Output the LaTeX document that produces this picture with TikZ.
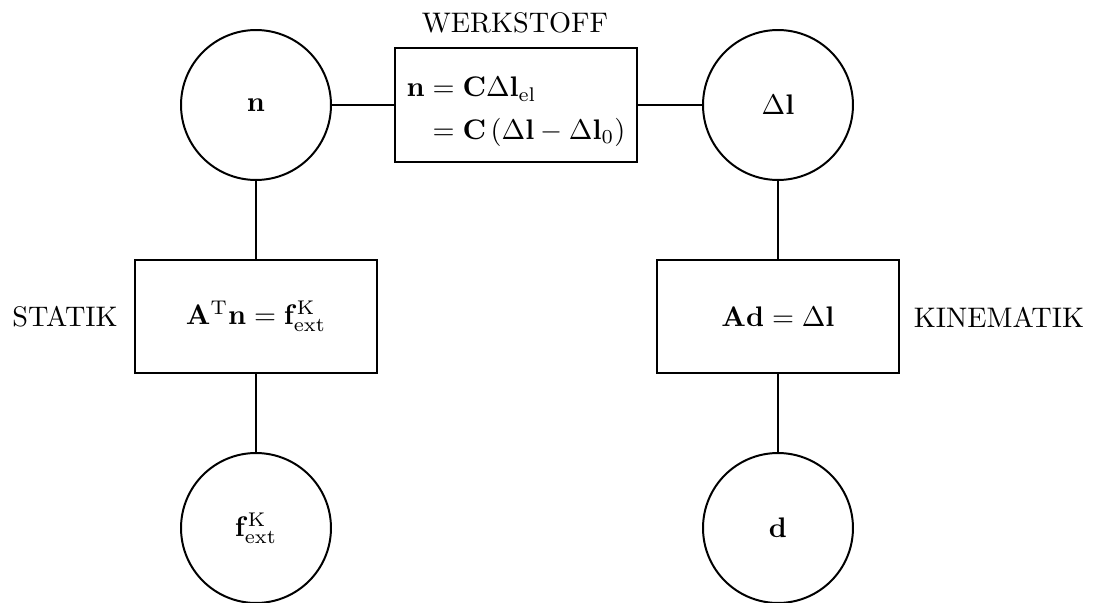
\documentclass[tikz,border=0pt]{standalone}
\usepackage{amsmath}
\begin{document}
\begin{tikzpicture}[x=0.3534pt,y=-0.3534pt,
  every path/.style={line width=0.7pt},
  var/.style={draw,circle,minimum size=53pt,inner sep=0pt,line width=0.7pt},
  eqbox/.style={draw,rectangle,minimum width=85.2pt,minimum height=39.9pt,inner sep=3pt,line width=0.7pt},
  lbl/.style={inner sep=0pt}]
\useasboundingbox (0,0) rectangle (1093,603);
\node[var] (n) at (256,105) {$\mathbf{n}$};
\node[var] (dl) at (778,105) {$\Delta\mathbf{l}$};
\node[var] (f) at (256,528) {$\mathbf{f}_{\mathrm{ext}}^{\mathrm{K}}$};
\node[var] (d) at (778,528) {$\mathbf{d}$};
\node[eqbox,minimum height=40.3pt] (w) at (516,105) {\raisebox{-2.2pt}[\height][\depth]{$\begin{aligned}\mathbf{n} &= \mathbf{C}\Delta\mathbf{l}_{\mathrm{el}}\\ &= \mathbf{C}\left(\Delta\mathbf{l}-\Delta\mathbf{l}_0\right)\end{aligned}$}};
\node[eqbox] (s) at (256,316.5) {$\mathbf{A}^{\mathrm{T}}\mathbf{n} = \mathbf{f}_{\mathrm{ext}}^{\mathrm{K}}$};
\node[eqbox] (k) at (778,316.5) {$\mathbf{A}\mathbf{d} = \Delta\mathbf{l}$};
\node[lbl] (wl) at (515,23) {WERKSTOFF};
\node[lbl] (sl) at (65,317) {STATIK};
\node[lbl] (kl) at (999,317) {KINEMATIK};
\draw (n) -- (w);
\draw (w) -- (dl);
\draw (n) -- (s);
\draw (s) -- (f);
\draw (dl) -- (k);
\draw (k) -- (d);
\end{tikzpicture}
\end{document}
